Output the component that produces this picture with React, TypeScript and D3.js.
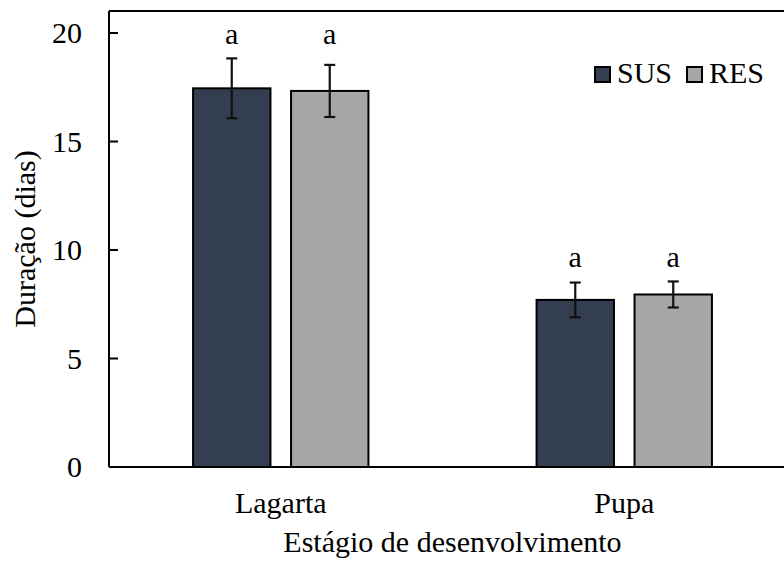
import React, { Component } from "react";
import * as d3 from "d3";

const categories = ["Lagarta", "Pupa"];
const seriesNames = ["SUS", "RES"];
const susMeans = [17.45, 7.7];
const susErrors = [1.38, 0.8];
const resMeans = [17.33, 7.95];
const resErrors = [1.2, 0.6];
const letters = [
  ["a", "a"],
  ["a", "a"]
];
const yTicks = [0, 5, 10, 15, 20];
const colours = ["#333F50", "#A6A6A6"];

const width = 784;
const height = 563;
const margin = { top: 11, left: 109, bottom: 96 };
const font = "Times New Roman, Liberation Serif, serif";

class BarChart extends Component {
  svgEl: SVGSVGElement | null = null;

  componentDidMount() {
    this.drawChart();
  }

  drawChart() {
    const svg = d3.select(this.svgEl);
    svg.selectAll("*").remove();
    svg.attr("font-family", font).attr("font-size", 30);

    const plotBottom = height - margin.bottom;
    // band continues past the right edge of the picture, like the original
    const x0 = d3
      .scaleBand()
      .domain(categories)
      .range([margin.left, 796])
      .paddingInner(0)
      .paddingOuter(0);
    const x1 = d3
      .scaleBand()
      .domain(seriesNames)
      .range([0, x0.bandwidth()])
      .paddingInner(0.21)
      .paddingOuter(0.858);
    const y = d3.scaleLinear().domain([0, 20]).range([plotBottom, 33]);

    const rows = categories.map((c, i) => ({
      category: c,
      values: [
        { name: "SUS", mean: susMeans[i], err: susErrors[i], letter: letters[i][0] },
        { name: "RES", mean: resMeans[i], err: resErrors[i], letter: letters[i][1] }
      ]
    }));

    // frame: left, top
    svg
      .append("line")
      .attr("x1", margin.left)
      .attr("x2", margin.left)
      .attr("y1", margin.top)
      .attr("y2", plotBottom)
      .attr("stroke", "#000")
      .attr("stroke-width", 2);
    svg
      .append("line")
      .attr("x1", margin.left)
      .attr("x2", width)
      .attr("y1", margin.top)
      .attr("y2", margin.top)
      .attr("stroke", "#000")
      .attr("stroke-width", 2);

    // y ticks (inside) + labels
    const yAxis = svg.append("g");
    yAxis
      .selectAll("line")
      .data(yTicks)
      .enter()
      .append("line")
      .attr("x1", margin.left)
      .attr("x2", margin.left + 9)
      .attr("y1", d => y(d))
      .attr("y2", d => y(d))
      .attr("stroke", "#000")
      .attr("stroke-width", 2);
    yAxis
      .selectAll("text")
      .data(yTicks)
      .enter()
      .append("text")
      .attr("x", 82)
      .attr("y", d => y(d))
      .attr("dy", "0.34em")
      .attr("text-anchor", "end")
      .text(d => d);

    const groups = svg
      .selectAll("g.group")
      .data(rows)
      .enter()
      .append("g")
      .attr("class", "group")
      .attr("transform", d => `translate(${x0(d.category)},0)`);

    groups
      .selectAll("rect")
      .data(d => d.values)
      .enter()
      .append("rect")
      .attr("x", d => x1(d.name))
      .attr("y", d => y(d.mean))
      .attr("width", x1.bandwidth())
      .attr("height", d => plotBottom - y(d.mean))
      .attr("fill", (d, i) => colours[i])
      .attr("stroke", "#000")
      .attr("stroke-width", 2);

    const capW = 11;
    const errs = groups
      .selectAll("g.err")
      .data(d => d.values)
      .enter()
      .append("g")
      .attr("class", "err")
      .attr("stroke", "#111")
      .attr("stroke-width", 2.2);
    errs
      .append("line")
      .attr("x1", d => x1(d.name) + x1.bandwidth() / 2)
      .attr("x2", d => x1(d.name) + x1.bandwidth() / 2)
      .attr("y1", d => y(d.mean + d.err))
      .attr("y2", d => y(d.mean - d.err));
    errs
      .append("line")
      .attr("x1", d => x1(d.name) + x1.bandwidth() / 2 - capW / 2)
      .attr("x2", d => x1(d.name) + x1.bandwidth() / 2 + capW / 2)
      .attr("y1", d => y(d.mean + d.err))
      .attr("y2", d => y(d.mean + d.err));
    errs
      .append("line")
      .attr("x1", d => x1(d.name) + x1.bandwidth() / 2 - capW / 2)
      .attr("x2", d => x1(d.name) + x1.bandwidth() / 2 + capW / 2)
      .attr("y1", d => y(d.mean - d.err))
      .attr("y2", d => y(d.mean - d.err));

    // significance letters, same height within each group
    groups.each(function (g) {
      const top = d3.max(g.values, v => v.mean + v.err);
      d3.select(this)
        .selectAll("text.letter")
        .data(g.values)
        .enter()
        .append("text")
        .attr("class", "letter")
        .attr("x", d => x1(d.name) + x1.bandwidth() / 2)
        .attr("y", y(top) - 14)
        .attr("text-anchor", "middle")
        .text(d => d.letter);
    });

    // bottom axis
    svg
      .append("line")
      .attr("x1", margin.left)
      .attr("x2", width)
      .attr("y1", plotBottom)
      .attr("y2", plotBottom)
      .attr("stroke", "#000")
      .attr("stroke-width", 2);

    svg
      .selectAll("text.cat")
      .data(categories)
      .enter()
      .append("text")
      .attr("class", "cat")
      .attr("x", d => x0(d) + x0.bandwidth() / 2)
      .attr("y", 513)
      .attr("text-anchor", "middle")
      .text(d => d);

    svg
      .append("text")
      .attr("x", (margin.left + 796) / 2)
      .attr("y", 552)
      .attr("text-anchor", "middle")
      .text("Estágio de desenvolvimento");

    svg
      .append("text")
      .attr("transform", `translate(35,${(margin.top + plotBottom) / 2}) rotate(-90)`)
      .attr("text-anchor", "middle")
      .text("Duração (dias)");

    // legend
    const legendX = [595, 687];
    const legend = svg
      .selectAll("g.legend")
      .data(seriesNames)
      .enter()
      .append("g")
      .attr("class", "legend")
      .attr("transform", (d, i) => `translate(${legendX[i]},67)`);
    legend
      .append("rect")
      .attr("width", 15)
      .attr("height", 15)
      .attr("fill", (d, i) => colours[i])
      .attr("stroke", "#000")
      .attr("stroke-width", 2);
    legend
      .append("text")
      .attr("x", 22)
      .attr("y", 16)
      .text(d => d);
  }

  render() {
    return (
      <svg
        width={width}
        height={height}
        style={{ position: "absolute", left: 0, top: 0, background: "#fff" }}
        ref={element => (this.svgEl = element)}
      />
    );
  }
}

export default function App() {
  return <BarChart />;
}
